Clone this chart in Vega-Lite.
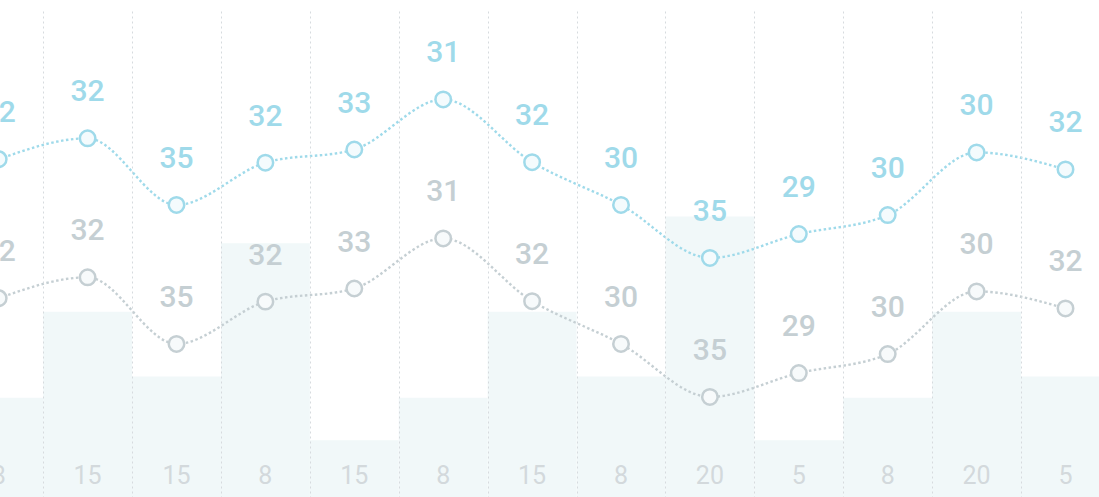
{
  "$schema": "https://vega.github.io/schema/vega-lite/v6.json",
  "width": 1099,
  "height": 486,
  "autosize": {"type": "none"},
  "padding": {"left": 0, "top": 11, "right": 0, "bottom": 0},
  "background": "#ffffff",
  "config": {"view": {"stroke": null}},
  "data": {
    "values": [
      {"i": 0, "bar": 20.4, "bottom": "8", "c": 69.5, "g": 40.9, "label": "32"},
      {"i": 1, "bar": 38.1, "bottom": "15", "c": 73.8, "g": 45.2, "label": "32"},
      {"i": 2, "bar": 24.8, "bottom": "15", "c": 60.1, "g": 31.5, "label": "35"},
      {"i": 3, "bar": 52.2, "bottom": "8", "c": 68.8, "g": 40.2, "label": "32"},
      {"i": 4, "bar": 11.7, "bottom": "15", "c": 71.5, "g": 42.9, "label": "33"},
      {"i": 5, "bar": 20.4, "bottom": "8", "c": 81.8, "g": 53.2, "label": "31"},
      {"i": 6, "bar": 38.1, "bottom": "15", "c": 68.9, "g": 40.3, "label": "32"},
      {"i": 7, "bar": 24.8, "bottom": "8", "c": 60.1, "g": 31.5, "label": "30"},
      {"i": 8, "bar": 57.7, "bottom": "20", "c": 49.2, "g": 20.6, "label": "35"},
      {"i": 9, "bar": 11.7, "bottom": "5", "c": 54.1, "g": 25.5, "label": "29"},
      {"i": 10, "bar": 20.4, "bottom": "8", "c": 58.0, "g": 29.4, "label": "30"},
      {"i": 11, "bar": 38.1, "bottom": "20", "c": 70.9, "g": 42.3, "label": "30"},
      {"i": 12, "bar": 24.8, "bottom": "5", "c": 67.4, "g": 38.8, "label": "32"}
    ]
  },
  "encoding": {
    "x": {
      "field": "i",
      "type": "ordinal",
      "scale": {"range": [-45.75, 1109.95], "paddingInner": 0, "paddingOuter": 0},
      "axis": {
        "labels": false, "ticks": false, "domain": false, "title": null,
        "grid": true, "tickBand": "extent", "gridDash": [2, 3],
        "gridColor": "#d6dbde", "gridWidth": 1, "zindex": 1
      }
    }
  },
  "layer": [
    {
      "mark": {"type": "bar", "color": "#f1f8f9"},
      "encoding": {
        "y": {"field": "bar", "type": "quantitative", "scale": {"domain": [0, 100]}, "axis": null}
      }
    },
    {
      "mark": {"type": "line", "interpolate": "monotone", "color": "#c5cfd3", "strokeWidth": 2.4, "strokeDash": [2.5, 2.5]},
      "encoding": {"y": {"field": "g", "type": "quantitative", "scale": {"domain": [0, 100]}, "axis": null}}
    },
    {
      "mark": {"type": "point", "filled": true, "fill": "#f7fafb", "stroke": "#c5cfd3", "strokeWidth": 2.5, "size": 240, "opacity": 1},
      "encoding": {"y": {"field": "g", "type": "quantitative", "scale": {"domain": [0, 100]}, "axis": null}}
    },
    {
      "mark": {"type": "text", "font": "Roboto", "fontSize": 30, "fontWeight": 500, "color": "#c5cfd3", "dy": -46, "baseline": "middle", "align": "center"},
      "encoding": {
        "y": {"field": "g", "type": "quantitative", "scale": {"domain": [0, 100]}, "axis": null},
        "text": {"field": "label"}
      }
    },
    {
      "mark": {"type": "line", "interpolate": "monotone", "color": "#9fdaea", "strokeWidth": 2.4, "strokeDash": [2.5, 2.5]},
      "encoding": {"y": {"field": "c", "type": "quantitative", "scale": {"domain": [0, 100]}, "axis": null}}
    },
    {
      "mark": {"type": "point", "filled": true, "fill": "#f4fbfd", "stroke": "#9fdaea", "strokeWidth": 2.5, "size": 240, "opacity": 1},
      "encoding": {"y": {"field": "c", "type": "quantitative", "scale": {"domain": [0, 100]}, "axis": null}}
    },
    {
      "mark": {"type": "text", "font": "Roboto", "fontSize": 30, "fontWeight": 500, "color": "#9fdaea", "dy": -46, "baseline": "middle", "align": "center"},
      "encoding": {
        "y": {"field": "c", "type": "quantitative", "scale": {"domain": [0, 100]}, "axis": null},
        "text": {"field": "label"}
      }
    },
    {
      "mark": {"type": "text", "font": "Roboto", "fontSize": 25, "color": "#d3d9dc", "dy": -21, "baseline": "middle", "align": "center"},
      "encoding": {
        "y": {"datum": 0, "type": "quantitative", "scale": {"domain": [0, 100]}, "axis": null},
        "text": {"field": "bottom"}
      }
    }
  ]
}
